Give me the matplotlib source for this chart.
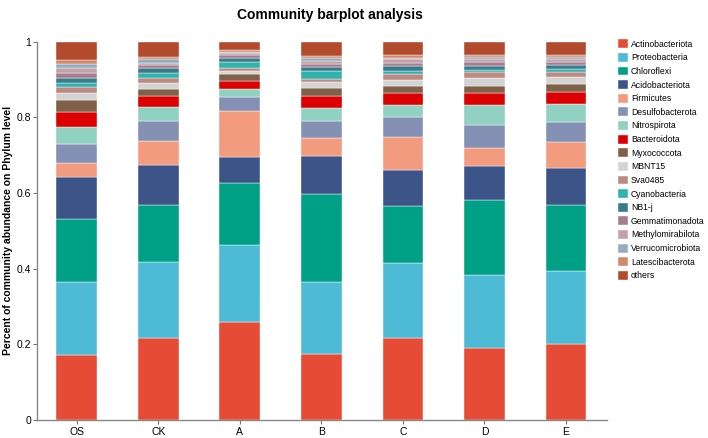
import matplotlib
matplotlib.use("Agg")
import matplotlib.pyplot as plt
import numpy as np
from matplotlib.ticker import FuncFormatter

samples = ["OS", "CK", "A", "B", "C", "D", "E"]

phyla = ["Actinobacteriota", "Proteobacteria", "Chloroflexi", "Acidobacteriota",
         "Firmicutes", "Desulfobacterota", "Nitrospirota", "Bacteroidota",
         "Myxococcota", "MBNT15", "Sva0485", "Cyanobacteria", "NB1-j",
         "Gemmatimonadota", "Methylomirabilota", "Verrucomicrobiota",
         "Latescibacterota", "others"]

colors = ["#E64B35", "#4DBBD5", "#00A087", "#3C5488", "#F39B7F", "#8491B4",
          "#91D1C2", "#DC0000", "#7E6148", "#D3D3D3", "#BC8A82", "#30B2AE",
          "#3A7A8A", "#A57D8E", "#C4A0A8", "#91AEC0", "#D1896A", "#B24A2E"]

# relative abundance, one row per phylum, columns follow `samples`
actino   = [0.172, 0.218, 0.260, 0.174, 0.217, 0.191, 0.202]
proteo   = [0.193, 0.199, 0.202, 0.191, 0.198, 0.191, 0.193]
chloro   = [0.166, 0.151, 0.164, 0.232, 0.151, 0.200, 0.174]
acido    = [0.110, 0.107, 0.068, 0.102, 0.094, 0.089, 0.096]
firm     = [0.037, 0.063, 0.123, 0.047, 0.087, 0.048, 0.071]
desulfo  = [0.052, 0.053, 0.036, 0.045, 0.054, 0.060, 0.051]
nitro    = [0.045, 0.035, 0.021, 0.033, 0.031, 0.053, 0.048]
bactero  = [0.039, 0.030, 0.021, 0.032, 0.031, 0.032, 0.032]
myxo     = [0.031, 0.020, 0.019, 0.022, 0.020, 0.019, 0.022]
mbnt15   = [0.020, 0.015, 0.009, 0.015, 0.016, 0.020, 0.018]
sva0485  = [0.016, 0.014, 0.007, 0.009, 0.015, 0.017, 0.013]
cyano    = [0.010, 0.012, 0.016, 0.021, 0.009, 0.005, 0.007]
nb1j     = [0.013, 0.012, 0.010, 0.009, 0.012, 0.011, 0.010]
gemmat   = [0.014, 0.008, 0.008, 0.008, 0.009, 0.010, 0.009]
methylo  = [0.012, 0.007, 0.005, 0.008, 0.009, 0.009, 0.009]
verruco  = [0.010, 0.009, 0.004, 0.008, 0.005, 0.005, 0.005]
latesci  = [0.011, 0.006, 0.004, 0.006, 0.006, 0.005, 0.004]
others   = [0.049, 0.041, 0.023, 0.038, 0.036, 0.035, 0.036]

values = [actino, proteo, chloro, acido, firm, desulfo, nitro, bactero, myxo,
          mbnt15, sva0485, cyano, nb1j, gemmat, methylo, verruco, latesci, others]


def main():
    plt.rcParams['font.family'] = 'Liberation Sans'
    fig = plt.figure(figsize=(7.08, 4.38), dpi=100)
    ax = fig.add_axes([0.052, 0.041, 0.805, 0.864])

    x = np.arange(len(samples))
    bottom = np.zeros(len(samples))
    handles = []
    for name, vals, c in zip(phyla, values, colors):
        vals = np.array(vals)
        b = ax.bar(x, vals, 0.5, bottom=bottom, color=c, edgecolor='white',
                   linewidth=0.3, label=name)
        handles.append(b)
        bottom += vals

    ax.set_xlim(-0.49, 6.5)
    ax.set_ylim(0, 1)
    ax.set_xticks(x)
    ax.set_xticklabels(samples, fontsize=7.5)
    ax.set_yticks([0, 0.2, 0.4, 0.6, 0.8, 1.0])
    ax.yaxis.set_major_formatter(FuncFormatter(lambda v, p: f"{v:g}"))
    ax.tick_params(axis='y', labelsize=7.5, length=3, color='#777777', pad=1)
    ax.tick_params(axis='x', length=3, color='#777777', pad=2)
    for s in ['top', 'right']:
        ax.spines[s].set_visible(False)
    for s in ['left', 'bottom']:
        ax.spines[s].set_color('#888888')
        ax.spines[s].set_linewidth(1.0)

    ax.set_ylabel("Percent of community abundance on Phylum level",
                  fontsize=7.5, fontweight='bold', labelpad=3)
    fig.text(0.466, 0.965, "Community barplot analysis", ha='center',
             va='center', fontsize=10, fontweight='bold')

    fig.legend(handles, phyla, loc='upper left', bbox_to_anchor=(0.868, 0.918),
               frameon=False, fontsize=6.2, handlelength=1.15, handleheight=1.2,
               handletextpad=0.35, labelspacing=0.5, borderaxespad=0)

    fig.savefig("out.png", dpi=100)


if __name__ == '__main__':
    main()
